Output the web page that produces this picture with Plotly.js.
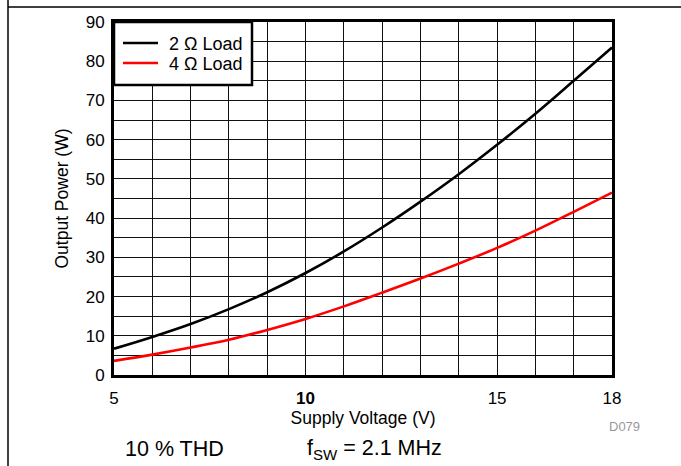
<!DOCTYPE html>
<html>
<head>
<meta charset="utf-8">
<script src="https://cdn.plot.ly/plotly-3.0.1.min.js"></script>
<style>html,body{margin:0;padding:0;background:#fff;}#chart{width:681px;height:466px;}</style>
</head>
<body>
<div id="chart"></div>
<script>
// Supply voltage (V)
const supplyVoltage = [5, 6, 7, 8, 9, 10, 11, 12, 13, 14, 15, 16, 17, 18];
// Output power (W), 10 % THD
const power2Ohm = [6.7, 9.7, 13.0, 16.8, 21.1, 26.0, 31.5, 37.6, 44.2, 51.2, 58.7, 66.6, 75.0, 83.5];
const power4Ohm = [3.6, 5.2, 7.0, 9.0, 11.5, 14.3, 17.5, 21.0, 24.6, 28.4, 32.4, 36.8, 41.6, 46.5];
const seriesNames = ['2 \u03A9 Load', '4 \u03A9 Load'];
const seriesColors = ['#000000', '#ff0000'];
const xTickVals = [5, 10, 15, 18];
const xTickText = ['5', '<b>10</b>', '15', '18'];
const yTickVals = [0, 10, 20, 30, 40, 50, 60, 70, 80, 90];

const FONT = '"Liberation Sans", Arial, Helvetica, sans-serif';
const L = 114, R = 612, T = 22, B = 375, W = 681, H = 466;
const px2x = p => (p - L) / (R - L);
const px2y = p => (B - p) / (B - T);

const traces = [
  {x: supplyVoltage, y: power2Ohm, name: seriesNames[0], mode: 'lines',
   line: {color: seriesColors[0], width: 2.6, shape: 'spline'}},
  {x: supplyVoltage, y: power4Ohm, name: seriesNames[1], mode: 'lines',
   line: {color: seriesColors[1], width: 2.6, shape: 'spline'}}
];

// legend drawn as a boxed key (rows at 43 and 63 px)
const legendShapes = [
  {type: 'rect', xref: 'paper', yref: 'paper', x0: px2x(114), x1: px2x(252), y0: px2y(85), y1: px2y(22),
   fillcolor: '#ffffff', line: {color: '#000', width: 2.5}, layer: 'above'}
];
const legendAnn = [];
const rowsY = [43, 63];
seriesNames.forEach((n, i) => {
  legendShapes.push({type: 'line', xref: 'paper', yref: 'paper', x0: px2x(123), x1: px2x(158),
    y0: px2y(rowsY[i]), y1: px2y(rowsY[i]), line: {color: seriesColors[i], width: 2.4}, layer: 'above'});
  legendAnn.push({xref: 'paper', yref: 'paper', x: px2x(167), y: px2y(rowsY[i] + 1), text: n, showarrow: false,
    xanchor: 'left', yanchor: 'middle', font: {family: FONT, size: 18, color: '#000'}});
});

const layout = {
  width: W, height: H,
  margin: {l: L, r: W - R, t: T, b: H - B, pad: 0},
  paper_bgcolor: '#ffffff', plot_bgcolor: '#ffffff',
  font: {family: FONT, size: 17, color: '#000'},
  showlegend: false,
  xaxis: {
    range: [5, 18], tickmode: 'array', tickvals: xTickVals, ticktext: xTickText,
    showgrid: true, gridcolor: '#111', gridwidth: 1,
    minor: {tickmode: 'linear', tick0: 5, dtick: 1, showgrid: true, gridcolor: '#111', gridwidth: 1, ticks: ''},
    ticks: '', ticklabelstandoff: 6,
    showline: true, linecolor: '#000', linewidth: 3, mirror: true, zeroline: false,
    tickfont: {family: FONT, size: 17},
    title: {text: 'Supply Voltage (V)', font: {family: FONT, size: 17.5}, standoff: 2}
  },
  yaxis: {
    range: [0, 90], tickmode: 'array', tickvals: yTickVals,
    showgrid: true, gridcolor: '#111', gridwidth: 1,
    minor: {tickmode: 'linear', tick0: 0, dtick: 5, showgrid: true, gridcolor: '#111', gridwidth: 1, ticks: ''},
    ticks: '', ticklabelstandoff: 3,
    showline: true, linecolor: '#000', linewidth: 3, mirror: true, zeroline: false,
    tickfont: {family: FONT, size: 17},
    title: {text: 'Output Power (W)', font: {family: FONT, size: 17.5}, standoff: 13}
  },
  shapes: [
    {type: 'line', xref: 'paper', yref: 'paper', x0: px2x(8), x1: px2x(W + 5), y0: px2y(7), y1: px2y(7),
     line: {color: '#000', width: 1.5}},
    {type: 'line', xref: 'paper', yref: 'paper', x0: px2x(8), x1: px2x(8), y0: px2y(-5), y1: px2y(H + 5),
     line: {color: '#000', width: 1.5}}
  ].concat(legendShapes),
  annotations: [
    {xref: 'paper', yref: 'paper', x: px2x(174), y: px2y(449), text: '10 % THD', showarrow: false,
     xanchor: 'center', yanchor: 'middle', font: {family: FONT, size: 21.5, color: '#000'}},
    {xref: 'paper', yref: 'paper', x: px2x(374), y: px2y(449), text: 'f<sub>SW</sub> = 2.1 MHz', showarrow: false,
     xanchor: 'center', yanchor: 'middle', font: {family: FONT, size: 21.5, color: '#000'}},
    {xref: 'paper', yref: 'paper', x: px2x(624), y: px2y(426), text: 'D079', showarrow: false,
     xanchor: 'center', yanchor: 'middle', font: {family: FONT, size: 13, color: '#999'}}
  ].concat(legendAnn)
};

Plotly.newPlot('chart', traces, layout, {displayModeBar: false, staticPlot: true});
</script>
</body>
</html>
